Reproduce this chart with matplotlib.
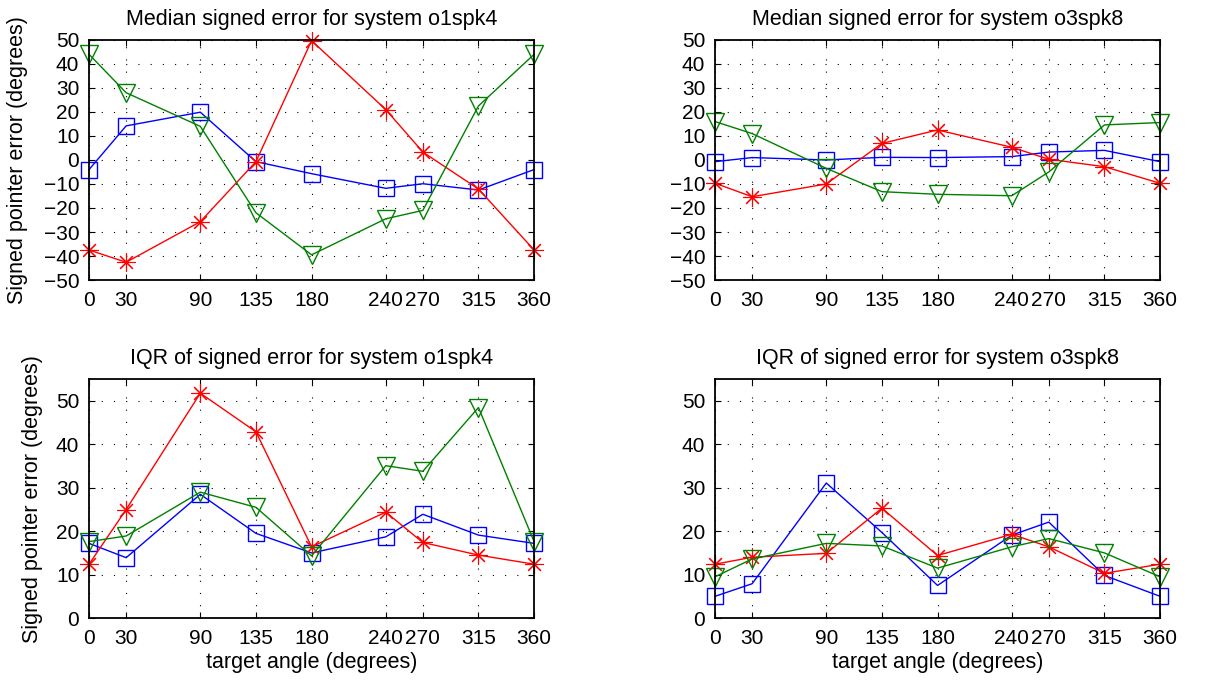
import numpy as np
import matplotlib
matplotlib.use("Agg")
from matplotlib import pyplot as plt

plt.rcParams['font.family'] = ['Liberation Sans', 'DejaVu Sans']

angles = [0, 30, 90, 135, 180, 240, 270, 315, 360]

# median signed error, system o1spk4
med1_blue = [-4, 14.2, 19.9, -0.7, -5.7, -11.8, -9.9, -12.5, -4]
med1_red = [-37.5, -42.6, -25.7, -0.7, 49.7, 21, 3.3, -12.1, -37.5]
med1_green = [44, 28, 14, -22, -39.5, -24.5, -21, 22.5, 44]

# median signed error, system o3spk8
med2_blue = [-0.7, 1, 0, 1.1, 1, 1.4, 3.3, 4, -0.7]
med2_red = [-9.7, -15.3, -10, 6.9, 12.5, 5.3, 0.3, -2.8, -9.7]
med2_green = [16, 11, -3.5, -13.2, -14.3, -14.9, -5, 14.6, 15.6]

# IQR of signed error, system o1spk4
iqr1_blue = [17.2, 13.9, 28.5, 19.5, 15, 18.7, 23.9, 19.1, 17.2]
iqr1_red = [12.4, 25, 51.8, 42.9, 16.4, 24.4, 17.4, 14.5, 12.4]
iqr1_green = [17.6, 18.9, 29, 25.5, 14.3, 35.1, 33.8, 48.5, 17.6]

# IQR of signed error, system o3spk8
iqr2_blue = [5, 7.9, 31.1, 19.7, 7.5, 19.1, 22.1, 9.8, 5]
iqr2_red = [12.4, 14, 14.9, 25.3, 14.4, 19.3, 16.4, 10.3, 12.4]
iqr2_green = [9.5, 13.6, 17.2, 16.6, 11.5, 16.4, 18.3, 15, 9.5]

fig = plt.figure(figsize=(12.25, 6.86), dpi=100)

FS = 15.5   # titles and axis labels
TFS = 15    # tick labels
lefts = [0.0727, 0.5837]
w = 0.3633
rows = [(0.5918, 0.35), (0.0991, 0.348)]

panels = [
    (0, 0, "Median signed error for system o1spk4", med1_blue, med1_red, med1_green),
    (0, 1, "Median signed error for system o3spk8", med2_blue, med2_red, med2_green),
    (1, 0, "IQR of signed error for system o1spk4", iqr1_blue, iqr1_red, iqr1_green),
    (1, 1, "IQR of signed error for system o3spk8", iqr2_blue, iqr2_red, iqr2_green),
]

for r, c, title, blue, red, green in panels:
    b, h = rows[r]
    ax = fig.add_axes([lefts[c], b, w, h])
    ax.plot(angles, blue, color=(0, 0, 1), lw=1.0, marker='s', ms=11,
            mfc='none', mec=(0, 0, 1), mew=1.0)
    ax.plot(angles, red, color=(1, 0, 0), lw=1.0, marker=(8, 2, 0), ms=13,
            mec=(1, 0, 0), mew=0.8)
    ax.plot(angles, green, color=(0, 0.5, 0), lw=1.0, marker='v', ms=13,
            mfc='none', mec=(0, 0.5, 0), mew=1.0)
    ax.set_xlim(0, 360)
    ax.set_xticks(angles)
    if r == 0:
        ax.set_ylim(-50, 50)
        ax.set_yticks(np.arange(-50, 51, 10))
    else:
        ax.set_ylim(0, 55)
        ax.set_yticks(np.arange(0, 51, 10))
        ax.set_xlabel("target angle (degrees)", fontsize=FS, labelpad=3)
    if c == 0:
        ax.set_ylabel("Signed pointer error (degrees)", fontsize=FS)
        ax.yaxis.set_label_coords(-0.137 if r == 0 else -0.103, 0.5)
    ax.set_title(title, fontsize=FS, pad=11)
    ax.grid(True, color='black', linestyle=(0, (1, 10)), lw=0.8)
    ax.tick_params(direction='in', top=True, right=True, length=4,
                   width=0.8, labelsize=TFS)
    ax.tick_params(axis='x', pad=8)
    ax.tick_params(axis='y', pad=7)
    for s in ax.spines.values():
        s.set_linewidth(1.3)
    for ln in ax.lines:
        ln.set_clip_on(False)

fig.savefig("out.png", dpi=100)
